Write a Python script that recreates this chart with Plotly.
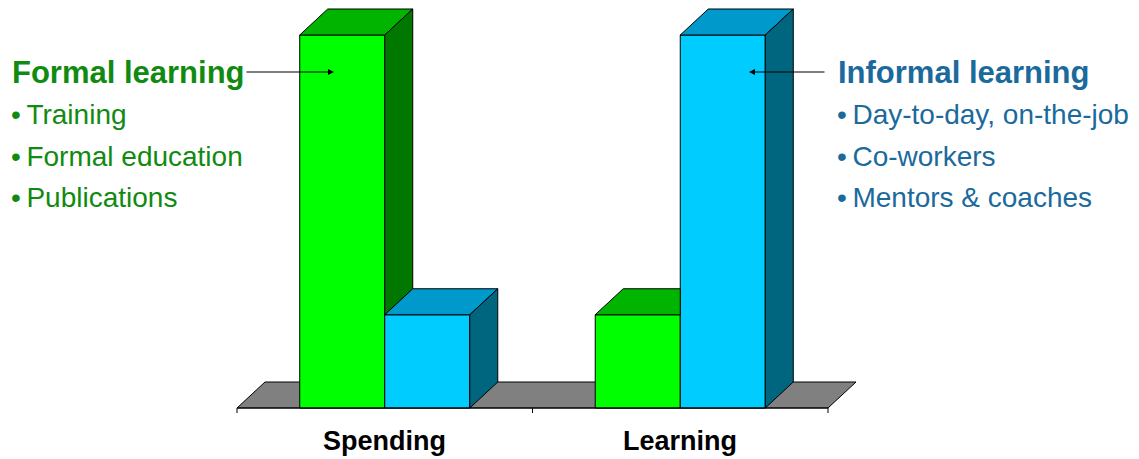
import plotly.graph_objects as go

# ---------------- data ----------------
categories = ["Spending", "Learning"]
series_names = ["Formal learning", "Informal learning"]
formal_values = [100, 25]
informal_values = [25, 100]
formal_items = ["Training", "Formal education", "Publications"]
informal_items = ["Day-to-day, on-the-job", "Co-workers", "Mentors & coaches"]

# ---------------- style / layout constants ----------------
W, H = 1139, 459
PX_PER_X, X0_PX = 295.5, 384.75      # pixels per category unit, pixel of category 0
PX_PER_Y, Y0_PX = 3.73, 408.0        # pixels per value unit, pixel of value 0
DEPTH_PX_X, DEPTH_PX_Y = 28, 26      # 3D depth offset in pixels
BARGAP = 0.4245

DX = DEPTH_PX_X / PX_PER_X
DY = DEPTH_PX_Y / PX_PER_Y
TICK = 5 / PX_PER_Y

front_colors = ["#00FF00", "#00CCFF"]
top_colors = ["#00B400", "#0099CC"]
side_colors = ["#007800", "#006680"]
text_green = "#118A11"
text_blue = "#1B6A9C"
FONT = "Liberation Sans"

series_values = [formal_values, informal_values]
n_series = len(series_values)
bar_w = (1 - BARGAP) / n_series

fig = go.Figure()

# front faces as real bars
for s in range(n_series):
    fig.add_trace(go.Bar(
        x=list(range(len(categories))), y=series_values[s], name=series_names[s],
        marker=dict(color=front_colors[s], line=dict(color="black", width=1)),
        offsetgroup=str(s), showlegend=False, hoverinfo="skip"))


def poly(xs, ys, color):
    fig.add_trace(go.Scatter(
        x=xs + [xs[0]], y=ys + [ys[0]], mode="lines", fill="toself",
        fillcolor=color, line=dict(color="black", width=1),
        showlegend=False, hoverinfo="skip"))


# top and side faces, derived from the same values
for c in range(len(categories)):
    for s in range(n_series):
        v = series_values[s][c]
        x0 = c - (1 - BARGAP) / 2 + s * bar_w
        x1 = x0 + bar_w
        nxt = series_values[s + 1][c] if s + 1 < n_series else 0
        if nxt >= v:
            poly([x0, x0 + DX, x1, x1], [v, v + DY, v + DY, v], top_colors[s])
        else:
            poly([x0, x0 + DX, x1 + DX, x1], [v, v + DY, v + DY, v], top_colors[s])
            poly([x1, x1 + DX, x1 + DX, x1], [nxt, nxt + DY, v + DY, v], side_colors[s])

# axis line with boundary ticks
n = len(categories)
bx = [-0.5, n - 0.5, None]
by = [0, 0, None]
for i in range(n + 1):
    bx += [i - 0.5, i - 0.5, None]
    by += [0, -TICK, None]
fig.add_trace(go.Scatter(x=bx, y=by, mode="lines", line=dict(color="black", width=1),
                         showlegend=False, hoverinfo="skip"))

# floor (below the bars)
fx = [-0.5, n - 0.5, n - 0.5 + DX, -0.5 + DX]
fy = [0, 0, DY, DY]
path = "M " + " L ".join(f"{a},{b}" for a, b in zip(fx, fy)) + " Z"
fig.add_shape(type="path", path=path, xref="x", yref="y", layer="below",
              fillcolor="#808080", line=dict(color="black", width=1))

ann = []
# category labels
for i, cat in enumerate(categories):
    ann.append(dict(x=i, y=1 - 441 / H, xref="x", yref="paper", text=f"<b>{cat}</b>",
                    showarrow=False, font=dict(family=FONT, size=27, color="black"),
                    xanchor="center", yanchor="middle"))


def px(xp, yp):
    return xp / W, 1 - yp / H


# left text block
x_, y_ = px(10, 72)
ann.append(dict(x=x_, y=y_, xref="paper", yref="paper", text=f"<b>{series_names[0]}</b>",
                showarrow=False, font=dict(family=FONT, size=31, color=text_green),
                xanchor="left", yanchor="middle"))
for k, item in enumerate(formal_items):
    x_, y_ = px(9, 115 + 41 * k)
    ann.append(dict(x=x_, y=y_, xref="paper", yref="paper", text="•\u2009" + item,
                    showarrow=False, font=dict(family=FONT, size=28, color=text_green),
                    xanchor="left", yanchor="middle"))

# right text block
x_, y_ = px(836, 72)
ann.append(dict(x=x_, y=y_, xref="paper", yref="paper", text=f"<b>{series_names[1]}</b>",
                showarrow=False, font=dict(family=FONT, size=31, color=text_blue),
                xanchor="left", yanchor="middle"))
for k, item in enumerate(informal_items):
    x_, y_ = px(835, 115 + 41 * k)
    ann.append(dict(x=x_, y=y_, xref="paper", yref="paper", text="•\u2009" + item,
                    showarrow=False, font=dict(family=FONT, size=28, color=text_blue),
                    xanchor="left", yanchor="middle"))

# arrows
x_, y_ = px(334, 72)
ann.append(dict(x=x_, y=y_, xref="paper", yref="paper", text="", showarrow=True,
                ax=-89, ay=0, arrowhead=2, arrowsize=1, arrowwidth=1.2, arrowcolor="black"))
x_, y_ = px(749, 72)
ann.append(dict(x=x_, y=y_, xref="paper", yref="paper", text="", showarrow=True,
                ax=77, ay=0, arrowhead=2, arrowsize=1, arrowwidth=1.2, arrowcolor="black"))

fig.update_layout(
    width=W, height=H, margin=dict(l=0, r=0, t=0, b=0),
    paper_bgcolor="white", plot_bgcolor="white",
    barmode="group", bargap=BARGAP, bargroupgap=0,
    xaxis=dict(range=[(0 - X0_PX) / PX_PER_X, (W - X0_PX) / PX_PER_X], visible=False, fixedrange=True),
    yaxis=dict(range=[(Y0_PX - H) / PX_PER_Y, Y0_PX / PX_PER_Y], visible=False, fixedrange=True),
    annotations=ann, showlegend=False,
)

fig.write_html("out.html")
